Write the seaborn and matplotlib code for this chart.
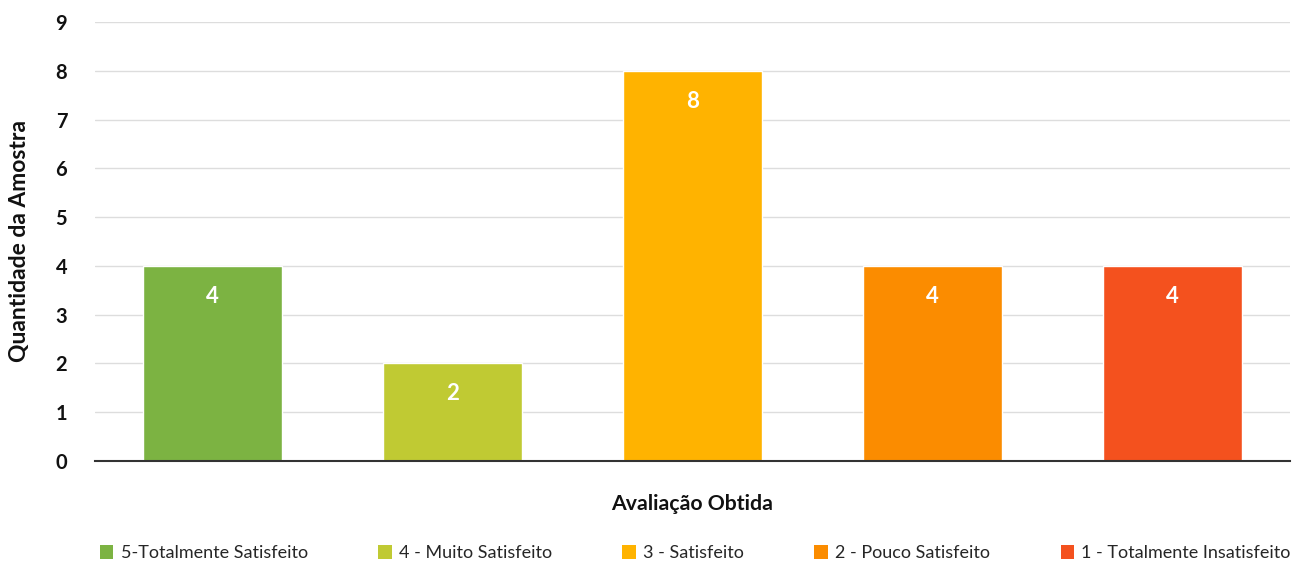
import matplotlib
matplotlib.use("Agg")
import matplotlib.pyplot as plt
import seaborn as sns
import pandas as pd
from matplotlib.patches import Patch

categories = ["5-Totalmente Satisfeito", "4 - Muito Satisfeito", "3 - Satisfeito",
              "2 - Pouco Satisfeito", "1 - Totalmente Insatisfeito"]
values = [4, 2, 8, 4, 4]
colors = ["#7CB342", "#C0CA33", "#FFB300", "#FB8C00", "#F4511E"]
yticks = [0, 1, 2, 3, 4, 5, 6, 7, 8, 9]

sns.set_theme(style="white")
plt.rcParams['font.family'] = ['Lato', 'DejaVu Sans']

df = pd.DataFrame({"cat": categories, "val": values})

fig = plt.figure(figsize=(13.02, 5.66), dpi=100)
ax = fig.add_axes([95/1302, 1 - 461/566, (1290-95)/1302, (461-22)/566])

sns.barplot(data=df, x="cat", y="val", hue="cat", palette=colors, dodge=False,
            width=0.58, legend=False, ax=ax, saturation=1)

ax.set_ylim(0, 9)
ax.set_xlim(-0.49, 4.49)
ax.set_yticks(yticks)
ax.set_yticklabels([str(t) for t in yticks], fontsize=14.5, fontweight='bold', color='#111111')
ax.set_xticks([])
ax.yaxis.grid(True, color='#dddddd', linewidth=1)
ax.set_axisbelow(True)
for s in ['left', 'right', 'top']:
    ax.spines[s].set_visible(False)
ax.spines['bottom'].set_color('#333333')
ax.spines['bottom'].set_linewidth(1.5)
ax.tick_params(axis='y', length=0, pad=20)

ax.set_ylabel("Quantidade da Amostra", fontsize=16.5, fontweight='bold', color='#111111', labelpad=18)
ax.set_xlabel("Avaliação Obtida", fontsize=15.3, fontweight='bold', color='#111111', labelpad=24)

for p, v in zip(ax.patches, values):
    ax.annotate(str(v), (p.get_x() + p.get_width()/2, v), xytext=(0, -22),
                textcoords='offset points', ha='center', va='center',
                color='white', fontsize=16, fontweight='bold')

handles = [Patch(facecolor=c, edgecolor='none') for c in colors]
fig.legend(handles, categories, loc='center', bbox_to_anchor=(0.534, 1 - 553/566),
           ncol=5, frameon=False, fontsize=13, handlelength=0.75, handleheight=0.85,
           handletextpad=0.4, columnspacing=3.9)

fig.savefig("out.png", dpi=100, facecolor='white')
